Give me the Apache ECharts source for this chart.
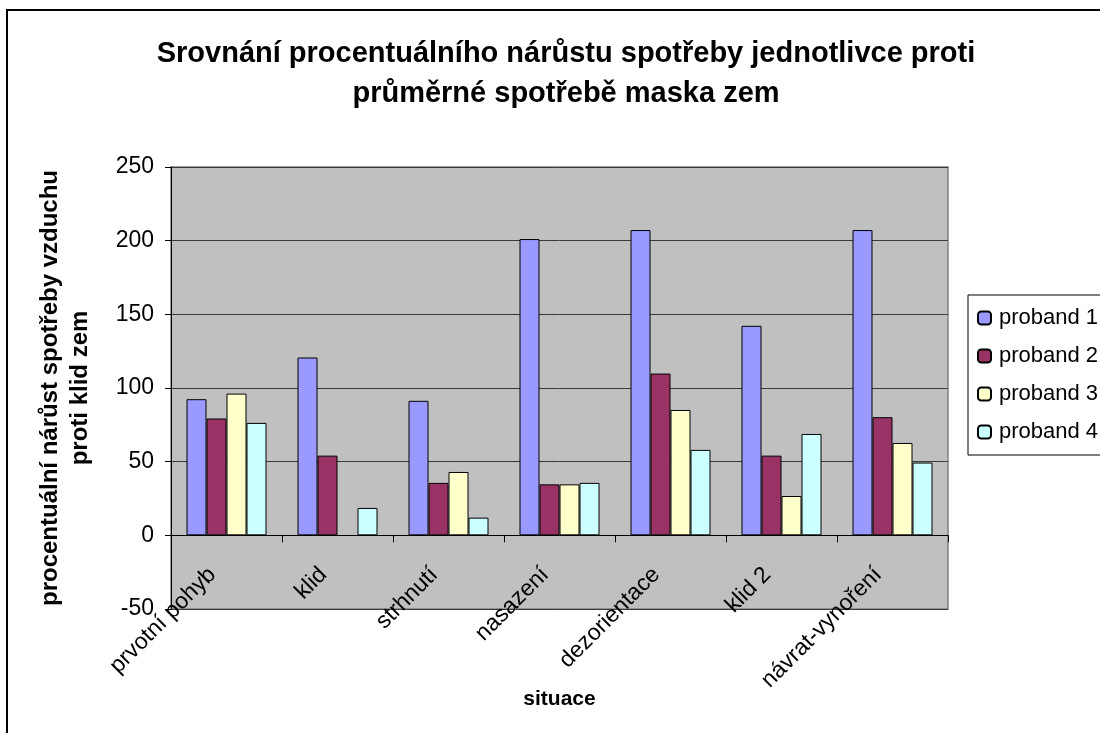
<!DOCTYPE html>
<html>
<head>
<meta charset="utf-8">
<script src="https://cdn.jsdelivr.net/npm/echarts@6/dist/echarts.min.js"></script>
<style>
  html, body { margin: 0; padding: 0; background: #fff; overflow: hidden; }
  #chart { width: 1100px; height: 733px; }
</style>
</head>
<body>
<div id="chart"></div>
<script>
// Situations (categories on the x axis)
const situace = ['prvotní pohyb', 'klid', 'strhnutí', 'nasazení', 'dezorientace', 'klid 2', 'návrat-vynoření'];

// Percentage increase of air consumption per subject
const proband1 = [92.4, 120.7, 91.3, 201.1, 207.2, 142.2, 207.2];
const proband2 = [79.3, 54.1, 35.6, 34.6, 109.8, 54.1, 80.2];
const proband3 = [96.2, null, 43.0, 34.6, 85.1, 26.7, 62.7];
const proband4 = [76.3, 18.6, 12.0, 35.6, 58.0, 68.8, 49.4];

const seriesNames = ['proband 1', 'proband 2', 'proband 3', 'proband 4'];
const seriesColors = ['#9999FF', '#993366', '#FFFFCC', '#CCFFFF'];
const seriesData = [proband1, proband2, proband3, proband4];

const FONT = 'Liberation Sans, Arial, sans-serif';

const chart = echarts.init(document.getElementById('chart'), null, { renderer: 'canvas' });

chart.setOption({
  animation: false,
  backgroundColor: '#ffffff',
  textStyle: { fontFamily: FONT, color: '#000' },
  graphic: [{
    type: 'rect',
    shape: { x: 7, y: 10, width: 1300, height: 900 },
    style: { fill: 'none', stroke: '#000', lineWidth: 2 },
    silent: true
  }],
  title: {
    text: 'Srovnání procentuálního nárůstu spotřeby jednotlivce proti\nprůměrné spotřebě maska zem',
    left: 561,
    textAlign: 'center',
    top: 29,
    textStyle: { fontFamily: FONT, fontSize: 29, fontWeight: 'bold', color: '#000', lineHeight: 40 }
  },
  legend: {
    orient: 'vertical',
    left: 968,
    top: 295,
    padding: [12, 14, 12, 9],
    borderColor: '#000',
    borderWidth: 1,
    itemWidth: 13,
    itemHeight: 13,
    itemGap: 16,
    textStyle: { fontFamily: FONT, fontSize: 22, color: '#000', lineHeight: 22, padding: [0, 0, 0, 3] },
    data: seriesNames
  },
  grid: {
    left: 171,
    right: 152,
    top: 167,
    bottom: 124,
    containLabel: false,
    outerBoundsMode: 'none',
    show: true,
    backgroundColor: '#C0C0C0',
    borderColor: '#808080',
    borderWidth: 1.5
  },
  xAxis: {
    type: 'category',
    data: situace,
    name: 'situace',
    nameLocation: 'middle',
    nameGap: 80,
    nameMoveOverlap: false,
    nameTextStyle: { fontFamily: FONT, fontSize: 21, fontWeight: 'bold', color: '#000' },
    axisLine: { onZero: true, lineStyle: { color: '#000', width: 1 } },
    axisTick: { show: true, length: 7, lineStyle: { color: '#000' } },
    axisLabel: {
      rotate: 45,
      margin: -52,
      padding: [0, 20, 0, 0],
      fontFamily: FONT,
      fontSize: 23,
      color: '#000',
      interval: 0,
      hideOverlap: false
    },
    splitLine: { show: false }
  },
  yAxis: {
    type: 'value',
    min: -50,
    max: 250,
    interval: 50,
    name: 'procentuální nárůst spotřeby vzduchu\nproti klid zem',
    nameLocation: 'middle',
    nameGap: 76,
    nameMoveOverlap: false,
    nameTextStyle: { fontFamily: FONT, fontSize: 24, fontWeight: 'bold', color: '#000', lineHeight: 30 },
    axisLine: { show: true, lineStyle: { color: '#000', width: 1 } },
    axisTick: { show: true, length: 6, lineStyle: { color: '#000' } },
    axisLabel: { margin: 17, fontFamily: FONT, fontSize: 23, color: '#000' },
    splitLine: { show: true, lineStyle: { color: '#3a3a3a', width: 1 } }
  },
  series: seriesNames.map((name, i) => ({
    name: name,
    type: 'bar',
    data: seriesData[i],
    barWidth: 20,
    barGap: '0%',
    itemStyle: { color: seriesColors[i], borderColor: '#000', borderWidth: 1 }
  }))
});
</script>
</body>
</html>
